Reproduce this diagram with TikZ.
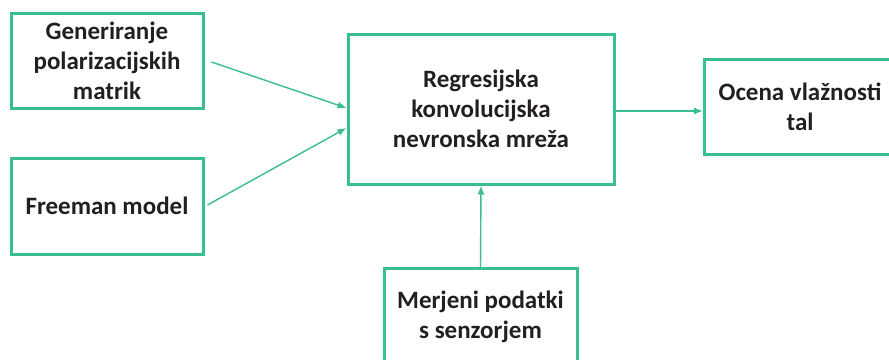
\documentclass[tikz,border=0pt]{standalone}
\usepackage{fontspec}
\setmainfont{Carlito}
\usetikzlibrary{arrows.meta,calc}
\definecolor{grn}{RGB}{56,190,145}
\definecolor{txt}{RGB}{35,31,32}
\begin{document}
\begin{tikzpicture}[x=1pt,y=-1pt,
  box/.style={draw=grn,line width=3pt,inner sep=0pt,align=center,text=txt,
    font=\fontsize{25}{30}\selectfont\bfseries},
  conn/.style={draw=grn,line width=1.4pt,-{Latex[length=9pt,width=7pt]}}]
\useasboundingbox (0,0) rectangle (889,359);
\node[box,minimum width=192pt,minimum height=95pt] (b1) at (107,60.5) {Generiranje\\polarizacijskih\\matrik};
\node[box,minimum width=192pt,minimum height=96pt] (b2) at (107,206) {Freeman model};
\node[box,minimum width=266pt,minimum height=150pt] (c) at (481,109) {Regresijska\\konvolucijska\\nevronska mreža};
\node[box,minimum width=191pt,minimum height=95pt] (r) at (800,106.5) {Ocena vlažnosti\\tal};
\node[box,minimum width=193pt,minimum height=97pt] (s) at (480.5,317) {Merjeni podatki\\s senzorjem};
\coordinate (a1s) at ($(b1.east)+(7,1.5)$);
\coordinate (a1e) at ($(c.west)+(0,-1)$);
\coordinate (a2s) at ($(b2.east)+(3,-1)$);
\coordinate (a2e) at ($(c.west)+(0,19)$);
\coordinate (a3) at ($(c.east)+(0,2)$);
\draw[conn] (a1s) -- (a1e);
\draw[conn] (a2s) -- (a2e);
\draw[conn] (a3) -- (r.west |- a3);
\draw[conn] (s.north) -- (c.south);
\end{tikzpicture}
\end{document}
